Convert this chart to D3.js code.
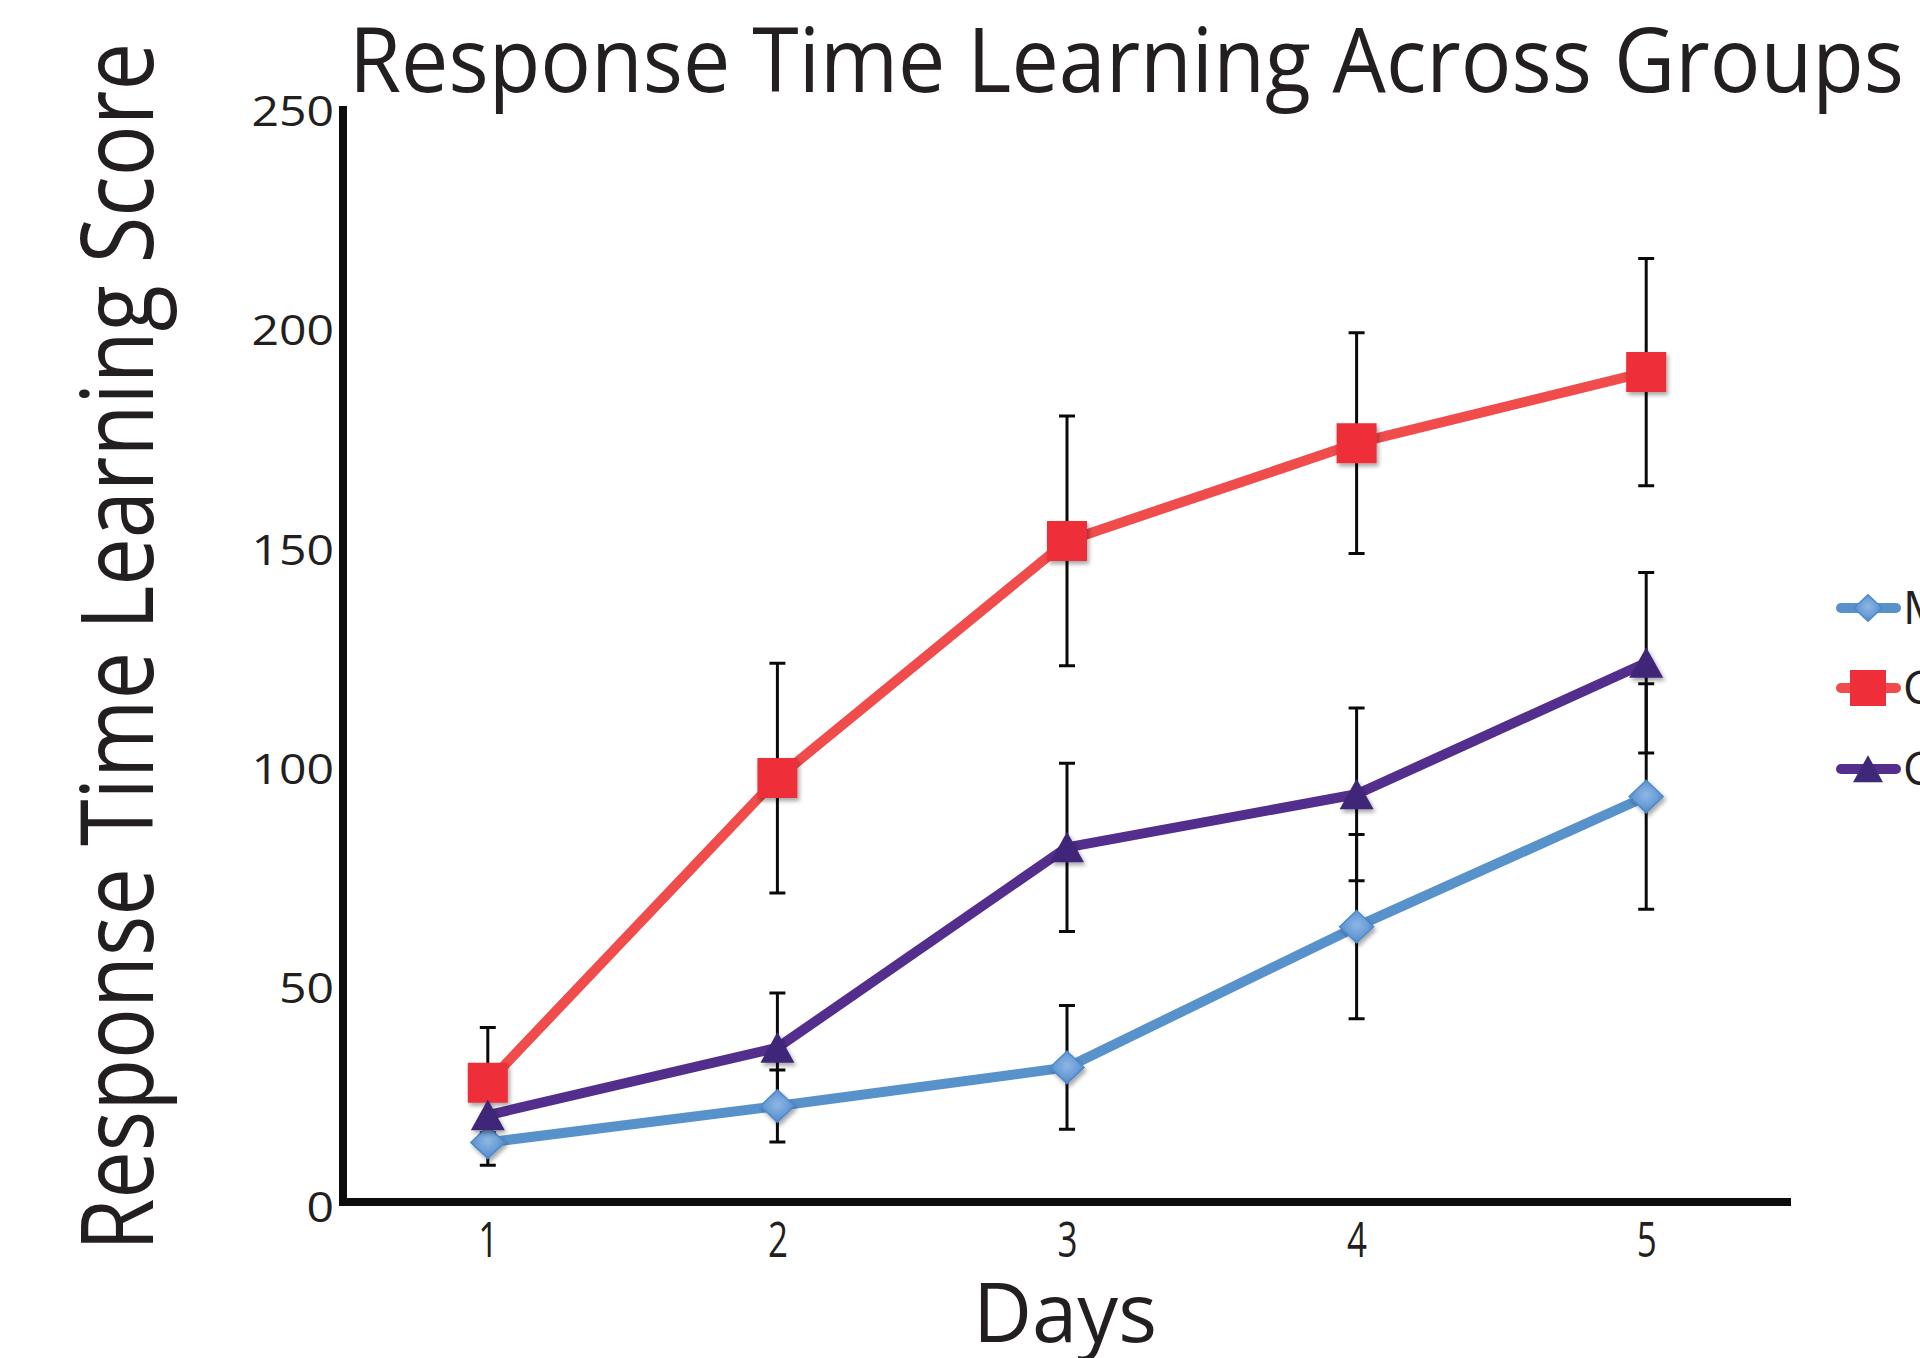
<!DOCTYPE html>
<html>
<head>
<meta charset="utf-8">
<script src="https://cdn.jsdelivr.net/npm/d3@7"></script>
<style>
  html, body { margin: 0; padding: 0; background: #fff; }
  svg { display: block; }
  text { font-family: "Open Sans", "DejaVu Sans", sans-serif; fill: #231f20; }
</style>
</head>
<body>
<svg id="chart" width="1920" height="1358"></svg>
<script>
// ---- data ----
const days = [1, 2, 3, 4, 5];
const yTicks = [0, 50, 100, 150, 200, 250];
const seriesNames = ["Morphine", "Control", "Cocaine"];

const morphineMean = [13.6, 21.9, 30.7, 62.8, 92.5];
const morphineSem  = [5.2, 8.2, 14.1, 21.0, 25.7];
const controlMean  = [27.2, 96.7, 150.8, 173.1, 189.3];
const controlSem   = [12.6, 26.2, 28.5, 25.2, 25.9];
const cocaineMean  = [19.8, 35.2, 80.9, 93.0, 123.0];
const cocaineSem   = [4.0, 12.5, 19.2, 19.7, 20.6];

const titleText = "Response Time Learning Across Groups";
const yTitleText = "Response Time Learning Score";
const xTitleText = "Days";

// ---- styling per series ----
const styles = [
  { line: "#5892cb", fill: "url(#diamondGrad)", shape: "diamond" },
  { line: "#ef4c4b", fill: "#ee2e38", shape: "square" },
  { line: "#532e8c", fill: "#3f2878", shape: "triangle" }
];

const series = [
  { name: seriesNames[0], mean: morphineMean, sem: morphineSem, ...styles[0] },
  { name: seriesNames[1], mean: controlMean,  sem: controlSem,  ...styles[1] },
  { name: seriesNames[2], mean: cocaineMean,  sem: cocaineSem,  ...styles[2] }
];

const svg = d3.select("#chart");

// ---- defs: marker shadow and diamond shading ----
const defs = svg.append("defs");
const shadow = defs.append("filter").attr("id", "shadow")
  .attr("x", "-50%").attr("y", "-50%").attr("width", "200%").attr("height", "200%");
shadow.append("feDropShadow").attr("dx", 2).attr("dy", 3)
  .attr("stdDeviation", 2.2).attr("flood-color", "#000").attr("flood-opacity", 0.35);

const grad = defs.append("radialGradient").attr("id", "diamondGrad")
  .attr("cx", "50%").attr("cy", "45%").attr("r", "60%");
grad.append("stop").attr("offset", "0%").attr("stop-color", "#8fb6e3");
grad.append("stop").attr("offset", "55%").attr("stop-color", "#6a9ed8");
grad.append("stop").attr("offset", "100%").attr("stop-color", "#4a84c6");

// ---- scales ----
const x = d3.scaleLinear().domain([0.5, 5.5]).range([343, 1791]);
const y = d3.scaleLinear().domain([0, 250]).range([1202, 106]);

// ---- axes ----
const xAxis = d3.axisBottom(x).tickValues(days).tickSize(0).tickPadding(0).tickFormat(d3.format("d"));
const gx = svg.append("g").attr("transform", `translate(0,${y(0)})`).call(xAxis);
gx.select(".domain").remove();
gx.selectAll("text")
  .attr("y", 55).attr("dy", 0)
  .attr("font-size", 49)
  .attr("textLength", 20).attr("lengthAdjust", "spacingAndGlyphs")
  .style("font-family", "'Open Sans', sans-serif").style("fill", "#231f20");

const yAxis = d3.axisLeft(y).tickValues(yTicks).tickSize(0).tickPadding(0).tickFormat(d3.format("d"));
const gy = svg.append("g").attr("transform", `translate(${x(0.5)},0)`).call(yAxis);
gy.select(".domain").remove();
gy.selectAll("text")
  .attr("x", -9).attr("dy", "0.47em")
  .attr("font-size", 42)
  .attr("textLength", d => String(d).length * 27.5)
  .attr("lengthAdjust", "spacingAndGlyphs")
  .style("font-family", "'Open Sans', sans-serif").style("fill", "#231f20")
  .style("font-weight", 500);

// L-shaped axis frame
svg.append("path")
  .attr("d", `M${x(0.5)},${y(250)} V${y(0)} H${x(5.5)}`)
  .attr("fill", "none").attr("stroke", "#0c0c0c").attr("stroke-width", 8)
  .attr("stroke-linejoin", "miter");

// ---- error bars ----
const capHalf = 8;
const errG = svg.append("g").attr("stroke", "#0a0a0a").attr("stroke-width", 3).attr("fill", "none");
series.forEach(s => {
  days.forEach((d, i) => {
    const cx = x(d), top = y(s.mean[i] + s.sem[i]), bot = y(s.mean[i] - s.sem[i]);
    errG.append("path").attr("d",
      `M${cx},${top} V${bot} M${cx - capHalf},${top} H${cx + capHalf} M${cx - capHalf},${bot} H${cx + capHalf}`);
  });
});

// ---- lines ----
const line = d3.line().x((d, i) => x(days[i])).y(d => y(d));
series.forEach(s => {
  svg.append("path").datum(s.mean)
    .attr("d", line)
    .attr("fill", "none").attr("stroke", s.line).attr("stroke-width", 10)
    .attr("stroke-linejoin", "round");
});

// ---- markers ----
function markerPath(shape, size) {
  const h = size / 2;
  if (shape === "square") return `M${-h},${-h}H${h}V${h}H${-h}Z`;
  if (shape === "diamond") return `M0,${-h * 0.95}L${h},0L0,${h * 0.95}L${-h},0Z`;
  return `M0,${-h * 0.92}L${h},${h * 0.88}H${-h}Z`;
}
const markerSize = { square: 40, diamond: 34, triangle: 34 };
series.forEach(s => {
  svg.append("g").selectAll("path").data(s.mean).join("path")
    .attr("transform", (d, i) => `translate(${x(days[i])},${y(d)})`)
    .attr("d", markerPath(s.shape, markerSize[s.shape]))
    .attr("fill", s.fill)
    .attr("stroke", s.shape === "diamond" ? "#4f89c8" : "none")
    .attr("stroke-width", s.shape === "diamond" ? 1.5 : 0)
    .attr("filter", "url(#shadow)");
});

// ---- legend ----
const legendRows = [608, 688, 769];
const lg = svg.append("g");
series.forEach((s, i) => {
  const row = lg.append("g").attr("transform", `translate(0,${legendRows[i]})`);
  row.append("line").attr("x1", 1841).attr("x2", 1896).attr("y1", 0).attr("y2", 0)
    .attr("stroke", s.line).attr("stroke-width", 10).attr("stroke-linecap", "round");
  const ls = { square: 36, diamond: 28, triangle: 30 }[s.shape];
  row.append("path").attr("transform", "translate(1868,0)")
    .attr("d", markerPath(s.shape, ls)).attr("fill", s.fill)
    .attr("stroke", s.shape === "diamond" ? "#4f89c8" : "none").attr("stroke-width", 1.5);
  row.append("text").attr("x", 1903).attr("y", 16)
    .attr("font-size", 46).text(s.name);
});

// ---- titles ----
svg.append("text")
  .attr("x", 349).attr("y", 92)
  .attr("font-size", 90).attr("font-weight", 500)
  .attr("textLength", 1555).attr("lengthAdjust", "spacingAndGlyphs")
  .text(titleText);

svg.append("text")
  .attr("transform", `translate(153,1251) rotate(-90)`)
  .attr("font-size", 100).attr("font-weight", 500)
  .attr("textLength", 1208).attr("lengthAdjust", "spacingAndGlyphs")
  .text(yTitleText);

svg.append("text")
  .attr("x", 973).attr("y", 1342)
  .attr("font-size", 82).attr("font-weight", 500)
  .attr("textLength", 184).attr("lengthAdjust", "spacingAndGlyphs")
  .text(xTitleText);
</script>
</body>
</html>
